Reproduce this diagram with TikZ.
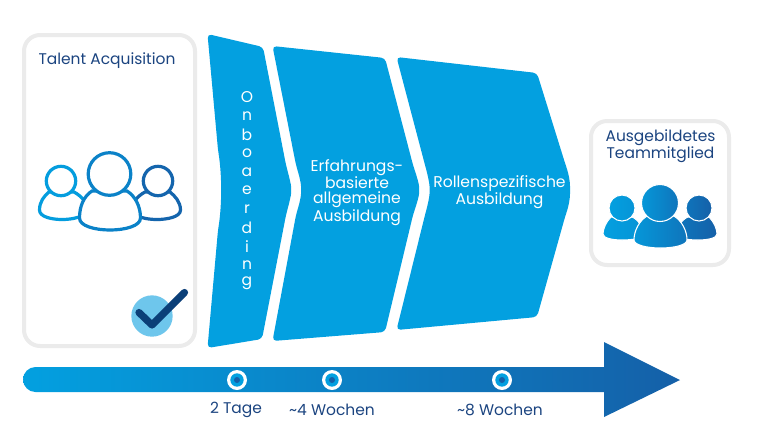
\documentclass[tikz,border=0pt]{standalone}
\usepackage{fontspec}
\setmainfont{Poppins}
\usepackage{xcolor}
\definecolor{panelblue}{HTML}{03A0E0}
\definecolor{flowstart}{HTML}{03A0E0}
\definecolor{flowmid}{HTML}{0B82C8}
\definecolor{flowend}{HTML}{1560A8}
\definecolor{titlenavy}{HTML}{1B4480}
\definecolor{framegrey}{HTML}{EBEBEB}
\definecolor{checkdisc}{HTML}{6EC6EC}
\definecolor{checknavy}{HTML}{0B3F78}

\begin{document}
\begin{tikzpicture}[
        x=0.75pt,
        y=-0.75pt,
        frame/.style={draw=framegrey, line width=3pt, rounded corners=12pt, fill=white},
        panel/.style={fill=panelblue, rounded corners=3pt},
        paneltext/.style={text=white, font=\fontsize{11.7}{11.25}\selectfont, align=center, inner sep=0pt},
        navytext/.style={text=titlenavy, font=\fontsize{11.6}{11.25}\selectfont, align=center, inner sep=0pt},
        weektext/.style={text=titlenavy, font=\fontsize{11.6}{11.25}\selectfont, inner sep=0pt},
        outlineA/.style={draw=flowstart!90!flowmid, line width=2.4pt, fill=white},
        outlineB/.style={draw=flowmid, line width=2.4pt, fill=white},
        outlineC/.style={draw=flowend!85!flowmid, line width=2.4pt, fill=white},
        solidA/.style={draw=white, line width=0.8pt, left color=flowstart, right color=flowstart!60!flowmid},
        solidB/.style={draw=white, line width=0.8pt, left color=flowstart!70!flowmid, right color=flowmid!60!flowend},
        solidC/.style={draw=white, line width=0.8pt, left color=flowmid!60!flowend, right color=flowend},
        ringouter/.style={circle, fill=white, minimum size=15pt, inner sep=0pt},
        ringinner/.style={circle, fill=panelblue, minimum size=10pt, inner sep=0pt},
        ringdot/.style={circle, fill=flowend, minimum size=4.5pt, inner sep=0pt}
    ]
    \useasboundingbox (0,0) rectangle (768,430);

    \draw[frame] (24,35) rectangle (195,346);
    \draw[frame] (591,121) rectangle (729,265);

    \node[navytext] (acquisition) at (107,61) {Talent Acquisition};
    \node[navytext] (trained) at (660.5,146.5) {Ausgebildetes\\Teammitglied};

    % outline team
    \draw[outlineA] (49,192) .. controls (44,196) and (39.5,202) .. (39.5,210) .. controls (39.5,217) and (52,219.5) .. (62,219.5) .. controls (70,219.5) and (78,218) .. (84,215) -- (84,200) .. controls (81,197) and (78,194) .. (74,192) -- cycle;
    \draw[outlineC] (170,192) .. controls (175,196) and (180.5,202) .. (180.5,210) .. controls (180.5,217) and (167,219.5) .. (157,219.5) .. controls (149,219.5) and (141,218) .. (135,215) -- (135,200) .. controls (138,197) and (141,194) .. (145,192) -- cycle;
    \draw[outlineA] (61,181) circle (14.7);
    \draw[outlineC] (158,181) circle (14.7);
    \draw[outlineB] (92,191) .. controls (84,196) and (79.5,206) .. (79.5,218) .. controls (79.5,226) and (95,230) .. (110,230) .. controls (125,230) and (140.5,226) .. (140.5,218) .. controls (140.5,206) and (135,196) .. (127,191) -- cycle;
    \draw[outlineB] (109.5,174) circle (21.3);

    % check mark
    \node[circle, fill=checkdisc, minimum size=31pt, inner sep=0pt] (checkdot) at (152,316) {};
    \draw[checknavy, line width=5.4pt, line cap=round, line join=round] (139,312.5) -- (152,325) -- (184.5,292.5);

    % solid team
    \shade[solidA] (611,217) .. controls (606,222) and (603,229) .. (603,234) .. controls (603,238) and (612,240) .. (622,240) .. controls (630,240) and (636,239) .. (640,238) -- (640,224) .. controls (638,221) and (635,218) .. (632,217) -- cycle;
    \shade[solidC] (709,217) .. controls (714,222) and (717,229) .. (717,234) .. controls (717,238) and (708,240) .. (698,240) .. controls (690,240) and (684,239) .. (680,238) -- (680,224) .. controls (682,221) and (685,218) .. (688,217) -- cycle;
    \shade[solidA] (622,208) circle (13);
    \shade[solidC] (699,208) circle (13);
    \shade[solidB] (647,216) .. controls (639,221) and (634,231) .. (634,240) .. controls (634,245) and (647,248) .. (660.5,248) .. controls (674,248) and (687,245) .. (687,240) .. controls (687,231) and (682,221) .. (674,216) -- cycle;
    \shade[solidB] (660,203) circle (18.5);

    % panels
    \fill[panel] (207.5,34) -- (263,47) -- (286,165) .. controls (290,180) and (291,185) .. (291,190) .. controls (291,195) and (290,200) .. (286,215) -- (262,339) -- (207.5,348) -- (218,230) .. controls (222,205) and (222,175) .. (218,150) -- cycle;
    \fill[panel] (272.5,46) -- (385,58) -- (413,165) .. controls (418,180) and (419,185) .. (419,190) .. controls (419,195) and (418,200) .. (413,215) -- (385,332) -- (272.5,341) -- (296,215) .. controls (300.5,200) and (301,195) .. (301,190) .. controls (301,185) and (300.5,180) .. (296,165) -- cycle;
    \fill[panel] (396.5,57) -- (537,73) -- (565,163) .. controls (569,175) and (570,182) .. (570,190) .. controls (570,198) and (569,205) .. (565,217) -- (537,317) -- (396.5,330) -- (425,215) .. controls (429,200) and (429.5,195) .. (429.5,190) .. controls (429.5,185) and (429,180) .. (425,165) -- cycle;

    \foreach \ltr [count=\i] in {O,n,b,o,a,e,r,d,i,n,g} {
        \node[paneltext] (onboard\i) at (247,{97.5+(\i-1)*18.6}) {\ltr};
    }
    \node[paneltext] (general) at (357,192.5) {Erfahrungs-\\basierte\\allgemeine\\Ausbildung};
    \node[paneltext] (rolespec) at (499.5,192.5) {Rollenspezifische\\Ausbildung};

    % timeline
    \shade[left color=flowstart, right color=flowend] (604,367) -- (604,342) -- (680,380) -- (604,417) -- (604,392) -- (35.5,392) arc (90:270:12.5) -- cycle;

    \foreach \name/\xpos in {days/237, fourweeks/332, eightweeks/502} {
        \node[ringouter] (\name) at (\xpos,380) {};
        \node[ringinner] at (\name) {};
        \node[ringdot] at (\name) {};
    }
    \node[weektext] (dayslabel) at (236,410) {2 Tage};
    \node[weektext] (fourlabel) at (332,410) {\textasciitilde4 Wochen};
    \node[weektext] (eightlabel) at (500,410) {\textasciitilde8 Wochen};
\end{tikzpicture}
\end{document}
